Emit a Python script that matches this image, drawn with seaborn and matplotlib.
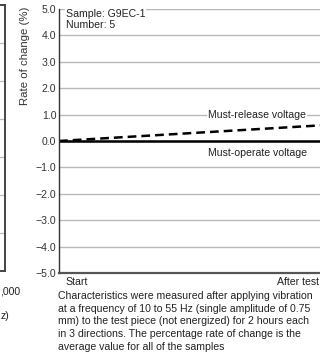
import matplotlib
matplotlib.use("Agg")
import matplotlib.pyplot as plt
import seaborn as sns

# ===== data =====
stages = ["Start", "After test"]
stage_pos = [0.0, 1.0]
must_operate = [0.0, 0.0]
must_release = [0.0, 0.6]
y_ticks = [5.0, 4.0, 3.0, 2.0, 1.0, 0.0, -1.0, -2.0, -3.0, -4.0, -5.0]
y_tick_labels = ["5.0", "4.0", "3.0", "2.0", "1.0", "0.0", "\u22121.0", "\u22122.0",
                 "\u22123.0", "\u22124.0", "\u22125.0"]
caption = ("Characteristics were measured after applying vibration\n"
           "at a frequency of 10 to 55 Hz (single amplitude of 0.75\n"
           "mm) to the test piece (not energized) for 2 hours each\n"
           "in 3 directions. The percentage rate of change is the\n"
           "average value for all of the samples")

sns.set_style("white")
plt.rcParams["font.family"] = ["Liberation Sans", "DejaVu Sans"]
FS = 7.6

W, H = 320, 359
fig = plt.figure(figsize=(W / 100, H / 100), dpi=100)

def px(x0, y0, x1, y1):
    return [x0 / W, 1 - y1 / H, (x1 - x0) / W, (y1 - y0) / H]

# ===== neighbouring chart remnant (cut off at the left) =====
axl = fig.add_axes(px(-120, 5, 4.5, 271))
axl.set_xlim(0, 1)
axl.set_ylim(0, 7)
for yy in range(1, 7):
    axl.axhline(yy, color="#bbbbbb", lw=0.9)
axl.set_xticks([])
axl.set_yticks([])
for s in axl.spines.values():
    s.set_color("#444444")
    s.set_linewidth(1.4)
fig.text(0.5 / W, 1 - 292 / H, ",000", ha="left", va="center", fontsize=FS, color="#222222")
fig.text(0.5 / W, 1 - 316 / H, "z)", ha="left", va="center", fontsize=FS, color="#222222")

# ===== main chart =====
ax = fig.add_axes(px(59, 9, 324, 273))
for yy in y_ticks:
    ax.axhline(yy, color="#b8b8b8", lw=1.0, zorder=0)

sns.lineplot(x=stage_pos, y=must_operate, ax=ax, color="black", lw=1.8)
sns.lineplot(x=stage_pos, y=must_release, ax=ax, color="black", lw=1.8,
             linestyle=(0, (3.5, 2)))

ax.set_xlim(0, 1)
ax.set_ylim(-5, 5)
ax.set_yticks(y_ticks)
ax.set_yticklabels(y_tick_labels, fontsize=FS, color="#333333")
ax.tick_params(axis="y", length=0, pad=2)
ax.set_xticks([])
for s in ["top", "right"]:
    ax.spines[s].set_visible(False)
ax.spines["left"].set_color("#333333")
ax.spines["left"].set_linewidth(1.0)
ax.spines["bottom"].set_color("#555555")
ax.spines["bottom"].set_linewidth(1.6)

box = dict(facecolor="white", edgecolor="none", pad=1)
ax.text(0.747, 1.0, "Must-release voltage", ha="center", va="center",
        fontsize=FS, color="#222222", bbox=box, zorder=3)
ax.text(0.75, -0.45, "Must-operate voltage", ha="center", va="center",
        fontsize=FS, color="#222222", bbox=box, zorder=3)
ax.text(0.027, 1.0, "Sample: G9EC-1\nNumber: 5", transform=ax.transAxes,
        ha="left", va="top", fontsize=FS, color="#222222", linespacing=1.1,
        bbox=dict(facecolor="white", edgecolor="none", pad=0.5), zorder=3)

fig.text(25 / W, 1 - 56 / H, "Rate of change (%)", rotation=90, ha="center",
         va="center", fontsize=8.2, color="#333333")

fig.text(65 / W, 1 - 282 / H, stages[0], ha="left", va="center", fontsize=FS, color="#222222")
fig.text(319 / W, 1 - 282 / H, stages[1], ha="right", va="center", fontsize=FS, color="#222222")

fig.text(58 / W, 1 - 291 / H, caption, ha="left", va="top", fontsize=FS,
         color="#222222", linespacing=1.33)

fig.savefig("out.png", dpi=100)
